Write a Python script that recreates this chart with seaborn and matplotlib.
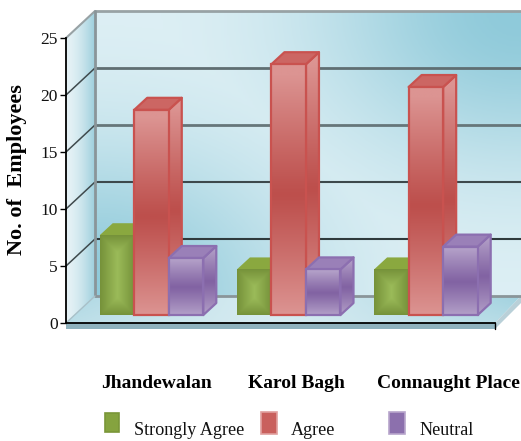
import numpy as np
import pandas as pd
import matplotlib
matplotlib.use("Agg")
import matplotlib.pyplot as plt
import seaborn as sns
from matplotlib.colors import LinearSegmentedColormap, to_rgb
from matplotlib.legend_handler import HandlerPatch
from matplotlib.patches import Patch, Polygon, Rectangle
from matplotlib.transforms import ScaledTranslation

# ---------- data ----------
locations = ["Jhandewalan", "Karol Bagh", "Connaught Place"]
series_names = ["Strongly Agree", "Agree", "Neutral"]
strongly_agree = [7, 4, 4]
agree = [18, 22, 20]
neutral = [5, 4, 6]
y_ticks = [0, 5, 10, 15, 20, 25]
y_label = "No. of  Employees"

# ---------- style ----------
W, H = 521, 441
FRONT_L, FRONT_R, FRONT_B, FRONT_T = 66, 495, 323, 38
WALL_DX, WALL_DY = 29, -27
BAR_DX, BAR_DY = 13, -12
BAR_LIFT = 0.7
GROUP_PX, GROUP0_PX = 137.2, 151.5
SERIF = ["Liberation Serif"]
grid_cols = {0: "#8a9599", 5: "#2f3a3c", 10: "#3d494c", 15: "#66767a", 20: "#5f6e72", 25: "#98a2a5"}
styles = {
    "Strongly Agree": dict(mid="#9bbb59", out="#76923a", edge="none", top="#8aa83f", side="#7f9d3a"),
    "Agree": dict(mid="#bd4f4c", out="#dc9492", edge="#c9524f", top="#cc6663", side="#c9605d"),
    "Neutral": dict(mid="#8263a3", out="#b3a0c8", edge="#8c6fb0", top="#9a80b8", side="#a48cc0"),
}

sns.set_style("white")
plt.rcParams["font.family"] = SERIF

fig = plt.figure(figsize=(W / 100, H / 100), dpi=100, facecolor="white")

# background (walls and floor), in pixel units
bg = fig.add_axes([0, 0, 1, 1], zorder=0)
bg.set_xlim(0, W)
bg.set_ylim(H, 0)
bg.axis("off")


def cmap2(a, b):
    return LinearSegmentedColormap.from_list("c", [to_rgb(a), to_rgb(b)])


def painted(axis, img, extent, poly, cmap, z=1):
    im = axis.imshow(img, extent=extent, cmap=cmap, vmin=0, vmax=1, aspect="auto",
                     interpolation="bilinear", zorder=z)
    p = Polygon(poly, closed=True, transform=axis.transData, fc="none", ec="none")
    axis.add_patch(p)
    im.set_clip_path(p)
    return im


bx0, by0 = FRONT_L + WALL_DX, FRONT_T + WALL_DY
by1 = FRONT_B + WALL_DY
X, Y = np.meshgrid(np.linspace(0, 1, 200), np.linspace(0, 1, 200))
w1 = np.exp(-((1 - X) ** 2 / 0.22 + Y ** 2 / 0.28))
w2 = np.exp(-(X ** 2 / 0.22 + (1 - Y) ** 2 / 0.28))
w = np.maximum(w1, w2)
painted(bg, w, (bx0, W, by1, by0), [(bx0, by0), (W, by0), (W, by1), (bx0, by1)],
        cmap2("#dff0f5", "#8fcada"))

# left wall
Xl, Yl = np.meshgrid(np.linspace(0, 1, 80), np.linspace(0, 1, 200))
painted(bg, Xl ** 1.6, (FRONT_L, bx0, FRONT_B, by0),
        [(FRONT_L, FRONT_T), (bx0, by0), (bx0, by1), (FRONT_L, FRONT_B)],
        cmap2("#e6f2f6", "#9dcfdd"))

# floor
Xf, Yf = np.meshgrid(np.linspace(0, 1, 300), np.linspace(0, 1, 30))
floor_w = np.clip(np.abs(Xf - 0.45) / 0.55, 0, 1) ** 1.2 * (1 - 0.35 * Yf)
painted(bg, floor_w, (FRONT_L, W, FRONT_B, by1),
        [(FRONT_L, FRONT_B), (bx0, by1), (W, by1), (FRONT_R, FRONT_B)],
        cmap2("#d6ebf1", "#a2d2df"))
bg.add_patch(Polygon([(FRONT_L, FRONT_B), (FRONT_R, FRONT_B), (FRONT_R, FRONT_B + 6), (FRONT_L, FRONT_B + 6)],
                     fc="#8fb2be", ec="none", zorder=2))
bg.add_patch(Polygon([(FRONT_R, FRONT_B), (W, by1), (W, by1 + 7), (FRONT_R, FRONT_B + 6)],
                     fc="#b9d0d8", ec="none", zorder=2))
bg.plot([FRONT_R, FRONT_R], [FRONT_B, FRONT_B + 6], color="black", lw=1, zorder=3)

# grid on the walls
px_per_unit = (FRONT_B - FRONT_T) / 25
for v in y_ticks:
    yf = FRONT_B - v * px_per_unit
    yb = yf + WALL_DY
    thick = 2.0 if v in (0, 20, 25, 15) else 1.5
    bg.plot([bx0, W], [yb, yb], color=grid_cols[v], lw=thick, zorder=3, solid_capstyle="butt")
    if v > 0:
        diag = "#98a2a5" if v == 25 else "#3f4a4d"
        bg.plot([FRONT_L, bx0], [yf, yb], color=diag, lw=1.5 if v == 25 else 1.1, zorder=3)
bg.plot([bx0, bx0], [by0, by1], color="#8a9599", lw=2, zorder=3)
bg.plot([FRONT_L, bx0], [FRONT_B, by1], color="#a8c0c8", lw=1, zorder=3)
bg.set_xlim(0, W)
bg.set_ylim(H, 0)

# main axes: front plane
ax = fig.add_axes([FRONT_L / W, 1 - FRONT_B / H, (FRONT_R - FRONT_L) / W, (FRONT_B - FRONT_T) / H], zorder=1)
ax.patch.set_visible(False)

df = pd.DataFrame({
    "Location": locations * 3,
    "Response": [s for s in series_names for _ in locations],
    "Employees": strongly_agree + agree + neutral,
})
sns.barplot(data=df, x="Location", y="Employees", hue="Response", order=locations, hue_order=series_names,
            width=0.755, gap=0, dodge=True, legend=False, errorbar=None, ax=ax, bottom=BAR_LIFT, linewidth=0)

xlim = ((FRONT_L - GROUP0_PX) / GROUP_PX, (FRONT_R - GROUP0_PX) / GROUP_PX)
ylim = (0, 25)
ax.set_xlim(*xlim)
ax.set_ylim(*ylim)
ddx, ddy = BAR_DX / GROUP_PX, -BAR_DY / px_per_unit


def vertical_gradient(n=200):
    t = np.linspace(0, 1, n)
    return (np.abs(t - 0.52) / 0.48).clip(0, 1).reshape(-1, 1) ** 1.1


def box_gradient(wpx, hpx):
    xs = np.linspace(0, wpx, 40)
    ys = np.linspace(0, hpx, 120)
    G, F = np.meshgrid(xs, ys)
    d = np.minimum.reduce([G, wpx - G, F, hpx - F]) / (wpx / 2)
    return 1 - np.clip(d, 0, 1)


bars = [b for b in ax.patches if b.get_height() > 0]
names = [s for s in series_names for _ in locations]
ordered = sorted(zip(bars, names), key=lambda t: t[0].get_x())
for k, (bar, name) in enumerate(ordered):
    st = styles[name]
    z = 3 + k
    x0, y0, bw, bh = bar.get_x(), bar.get_y(), bar.get_width(), bar.get_height()
    x1, y1 = x0 + bw, y0 + bh
    lw = 1.6 if st["edge"] != "none" else 0
    cm = cmap2(st["mid"], st["out"])
    # side face
    side = [(x1, y0), (x1 + ddx, y0 + ddy), (x1 + ddx, y1 + ddy), (x1, y1)]
    painted(ax, vertical_gradient(), (x1, x1 + ddx, y0, y1 + ddy), side, cm, z=z)
    ax.add_patch(Polygon(side, closed=True, fc="none", ec=st["edge"], lw=lw, zorder=z + 0.1, joinstyle="round"))
    # top face
    top = [(x0, y1), (x1, y1), (x1 + ddx, y1 + ddy), (x0 + ddx, y1 + ddy)]
    ax.add_patch(Polygon(top, closed=True, fc=st["top"], ec=st["edge"], lw=lw, zorder=z + 0.2, joinstyle="round"))
    # front face
    if name == "Strongly Agree":
        img = box_gradient(bw * GROUP_PX, bh * px_per_unit)
    else:
        img = vertical_gradient()
    front = [(x0, y0), (x1, y0), (x1, y1), (x0, y1)]
    painted(ax, img, (x0, x1, y0, y1), front, cm, z=z + 0.3)
    bar.set_facecolor("none")
    bar.set_edgecolor(st["edge"])
    bar.set_linewidth(lw)
    bar.set_zorder(z + 0.4)

ax.set_xlim(*xlim)
ax.set_ylim(*ylim)

# axes furniture
for s in ("top", "right"):
    ax.spines[s].set_visible(False)
for s in ("left", "bottom"):
    ax.spines[s].set_color("black")
    ax.spines[s].set_linewidth(1.3)
ax.set_yticks(y_ticks)
ax.set_yticklabels([str(v) for v in y_ticks], family=SERIF, fontsize=12.5, color="#111111")
ax.tick_params(axis="y", left=True, length=4.5, width=1, color="black", pad=1.5)
ax.set_xticks(range(len(locations)))
ax.set_xticklabels(locations, family=SERIF, fontweight="bold", fontsize=14, color="black")
ax.tick_params(axis="x", bottom=False, pad=34)
for lab, off in zip(ax.get_xticklabels(), [4.5, 7.5, 23]):
    lab.set_transform(lab.get_transform() + ScaledTranslation(off / 100, 0, fig.dpi_scale_trans))
ax.set_xlabel("")
ax.set_ylabel(y_label, family=SERIF, fontweight="bold", fontsize=16, color="black")
ax.yaxis.set_label_coords((27 - FRONT_L) / (FRONT_R - FRONT_L), (FRONT_B - 170) / (FRONT_B - FRONT_T))

# legend: three separately placed entries
LEG_FS = 13.1
LEG_FS_PX = LEG_FS * 100 / 72
PT = 0.72  # points per pixel at 100 dpi
legend_swatch = {"Strongly Agree": ("#85a33f", "#7a9638", 14, 19, 3, 0.82),
                 "Agree": ("#c9605d", "#e0a09e", 16, 22, 1, 0.78),
                 "Neutral": ("#8c70ad", "#b8a6cc", 16, 22, 1, 0.78)}
legend_x = [105, 261, 389]


def swatch_maker(sw, sh, lift):
    def make(legend, orig_handle, xdescent, ydescent, width, height, fontsize):
        return Rectangle((0, lift * PT), sw * PT, sh * PT)
    return make


for name, lx in zip(series_names, legend_x):
    fc, ec, sw, sh, lift, gap = legend_swatch[name]
    handle = Patch(facecolor=fc, edgecolor=ec, linewidth=1.2)
    fig.legend(handles=[handle], labels=[name],
               loc="lower left", bbox_to_anchor=(lx / W, 1 - 439 / H), frameon=False,
               prop={"family": SERIF, "size": LEG_FS}, borderpad=0, borderaxespad=0,
               handlelength=sw / LEG_FS_PX, handleheight=1,
               handletextpad=gap, labelcolor="#111111",
               handler_map={handle: HandlerPatch(patch_func=swatch_maker(sw, sh, lift))})

fig.savefig("out.png", dpi=100)
